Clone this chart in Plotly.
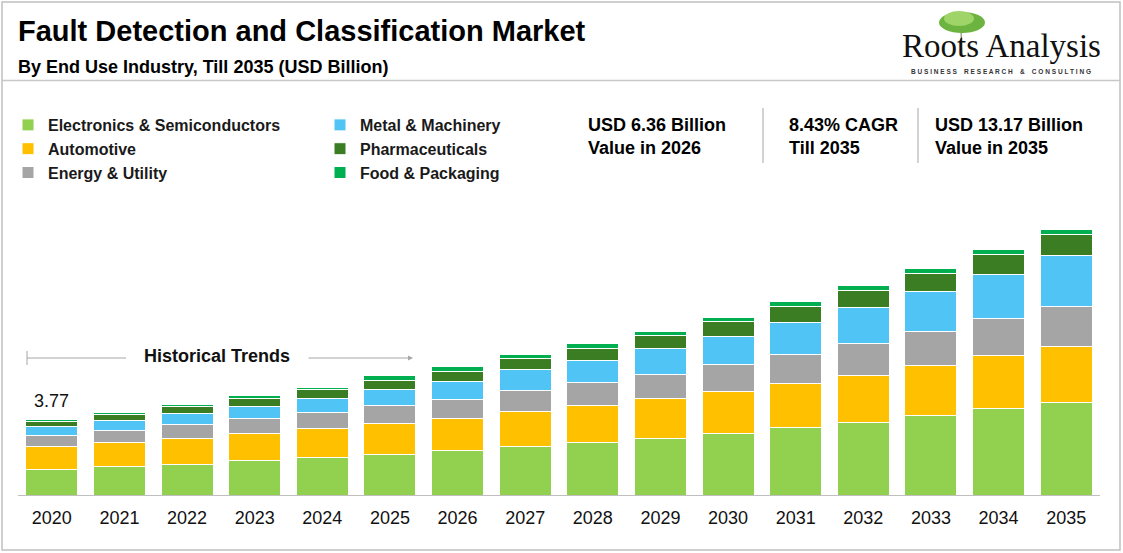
import plotly.graph_objects as go

# data (USD Billion)
years = ['2020', '2021', '2022', '2023', '2024', '2025', '2026', '2027',
         '2028', '2029', '2030', '2031', '2032', '2033', '2034', '2035']
electronics = [1.27, 1.42, 1.52, 1.69, 1.85, 2.02, 2.20, 2.42, 2.59, 2.79, 3.06, 3.36, 3.60, 3.93, 4.28, 4.60]
automotive = [1.14, 1.19, 1.27, 1.37, 1.45, 1.54, 1.61, 1.75, 1.84, 1.98, 2.08, 2.18, 2.33, 2.48, 2.64, 2.76]
energy = [0.53, 0.58, 0.71, 0.74, 0.79, 0.88, 0.95, 1.03, 1.16, 1.22, 1.32, 1.42, 1.59, 1.69, 1.82, 2.02]
metal = [0.47, 0.51, 0.56, 0.60, 0.69, 0.81, 0.89, 1.01, 1.08, 1.27, 1.40, 1.60, 1.77, 1.98, 2.23, 2.52]
pharma = [0.26, 0.30, 0.33, 0.41, 0.46, 0.45, 0.49, 0.55, 0.60, 0.64, 0.73, 0.78, 0.86, 0.94, 0.98, 1.02]
food = [0.10, 0.11, 0.12, 0.12, 0.12, 0.21, 0.22, 0.21, 0.23, 0.21, 0.23, 0.25, 0.26, 0.23, 0.25, 0.25]

series = [
    ('Electronics & Semiconductors', electronics, '#92d050', 'legend'),
    ('Automotive', automotive, '#ffc000', 'legend'),
    ('Energy & Utility', energy, '#a5a5a5', 'legend'),
    ('Metal & Machinery', metal, '#4fc4f5', 'legend2'),
    ('Pharmaceuticals', pharma, '#3b7d23', 'legend2'),
    ('Food & Packaging', food, '#00b050', 'legend2'),
]

title = 'Fault Detection and Classification Market'
subtitle = 'By End Use Industry, Till 2035 (USD Billion)'
stats = [('USD 6.36 Billion', 'Value in 2026'),
         ('8.43% CAGR', 'Till 2035'),
         ('USD 13.17 Billion', 'Value in 2035')]

W, H = 1123, 553
L, R, T, B = 18, 23, 213, 58
PW, PH = W - L - R, H - T - B
FONT = 'Arial, Liberation Sans, sans-serif'


def px(x):
    return (x - L) / PW


def py(y):
    return (H - B - y) / PH


fig = go.Figure()

for name, vals, color, leg in series:
    fig.add_trace(go.Bar(
        x=years, y=vals, name=f'<b>{name}</b>', legend=leg,
        marker=dict(color=color, line=dict(color='white', width=1)),
    ))

totals = [sum(v) for v in zip(*[s[1] for s in series])]

fig.update_layout(
    width=W, height=H, autosize=False,
    margin=dict(l=L, r=R, t=T, b=B, autoexpand=False),
    barmode='stack', bargap=0.23,
    plot_bgcolor='white', paper_bgcolor='white',
    font=dict(family=FONT, color='#000000'),
    legend=dict(x=px(8), y=py(108), xanchor='left', yanchor='top',
                traceorder='normal', bgcolor='rgba(0,0,0,0)',
                font=dict(size=16, color='#1a1a1a'), tracegroupgap=0),
    legend2=dict(x=px(320), y=py(108), xanchor='left', yanchor='top',
                 traceorder='normal', bgcolor='rgba(0,0,0,0)',
                 font=dict(size=16, color='#1a1a1a'), tracegroupgap=0),
)

fig.update_xaxes(type='category', range=[-0.5, len(years) - 0.5], automargin=False,
                 showline=True, linecolor='#bfbfbf', linewidth=1, ticklabelstandoff=6,
                 ticks='', showgrid=False, tickfont=dict(size=18, color='#111111'))
fig.update_yaxes(range=[0, 14], showticklabels=False, showline=False, zeroline=False,
                 showgrid=False, automargin=False)

# value label on first bar
fig.add_annotation(x=0, y=totals[0], text=f'{totals[0]:.2f}', showarrow=False,
                   yanchor='bottom', yshift=6, font=dict(size=18, color='#111111'))

# frame and header line
fig.add_shape(type='rect', xref='paper', yref='paper', x0=px(2), x1=px(1120), y0=py(550), y1=py(2),
              line=dict(color='#c0c0c0', width=1.5), layer='below')
fig.add_shape(type='line', xref='paper', yref='paper', x0=px(2), x1=px(1120), y0=py(80.5), y1=py(80.5),
              line=dict(color='#c8c8c8', width=1.5))

# title
fig.add_annotation(xref='paper', yref='paper', x=px(16), y=py(31), xanchor='left', yanchor='middle',
                   text=f'<b>{title}</b>', showarrow=False, font=dict(size=29, color='#000000'))
fig.add_annotation(xref='paper', yref='paper', x=px(16), y=py(67), xanchor='left', yanchor='middle',
                   text=f'<b>{subtitle}</b>', showarrow=False, font=dict(size=18, color='#000000'))

# key stats
for (a, b), x0 in zip(stats, [586, 787, 933]):
    fig.add_annotation(xref='paper', yref='paper', x=px(x0), y=py(136), xanchor='left', yanchor='middle',
                       text=f'<b>{a}<br>{b}</b>', align='left', showarrow=False,
                       font=dict(size=18, color='#000000'))
for xs in [763, 918]:
    fig.add_shape(type='line', xref='paper', yref='paper', x0=px(xs), x1=px(xs), y0=py(108), y1=py(163),
                  line=dict(color='#a6a6a6', width=1))

# logo
fig.add_shape(type='line', xref='paper', yref='paper', x0=px(961), x1=px(962), y0=py(28), y1=py(56),
              line=dict(color='#9aa38a', width=1.5))
fig.add_shape(type='circle', xref='paper', yref='paper', x0=px(939), x1=px(985), y0=py(33), y1=py(12),
              fillcolor='#6db33f', line=dict(width=0))
fig.add_shape(type='circle', xref='paper', yref='paper', x0=px(944), x1=px(974), y0=py(26), y1=py(11),
              fillcolor='#9fd468', line=dict(width=0))
fig.add_annotation(xref='paper', yref='paper', x=px(1001), y=py(46), xanchor='center', yanchor='middle',
                   text='Roots Analysis', showarrow=False,
                   font=dict(family='Liberation Serif, Times New Roman, serif', size=33, color='#111111'))
tagline = '    '.join(' '.join(w) for w in 'BUSINESS RESEARCH & CONSULTING'.split())
fig.add_annotation(xref='paper', yref='paper', x=px(1001), y=py(71), xanchor='center', yanchor='middle',
                   text=f'<b>{tagline}</b>', showarrow=False, font=dict(size=6.5, color='#333333'))

# historical trends marker
fig.add_annotation(xref='paper', yref='paper', x=px(217), y=py(356), xanchor='center', yanchor='middle',
                   text='<b>Historical Trends</b>', showarrow=False, font=dict(size=18, color='#111111'))
fig.add_shape(type='line', xref='paper', yref='paper', x0=px(27), x1=px(126), y0=py(358), y1=py(358),
              line=dict(color='#a6a6a6', width=1))
fig.add_shape(type='line', xref='paper', yref='paper', x0=px(27), x1=px(27), y0=py(351), y1=py(365),
              line=dict(color='#a6a6a6', width=1))
fig.add_annotation(xref='paper', yref='paper', axref='pixel', ayref='pixel',
                   x=px(413), y=py(358), ax=-106, ay=0, text='', showarrow=True,
                   arrowhead=2, arrowsize=1, arrowwidth=1, arrowcolor='#a6a6a6')

fig.write_html('out.html', config={'displayModeBar': False},
               post_script="document.body.style.margin='0';")
